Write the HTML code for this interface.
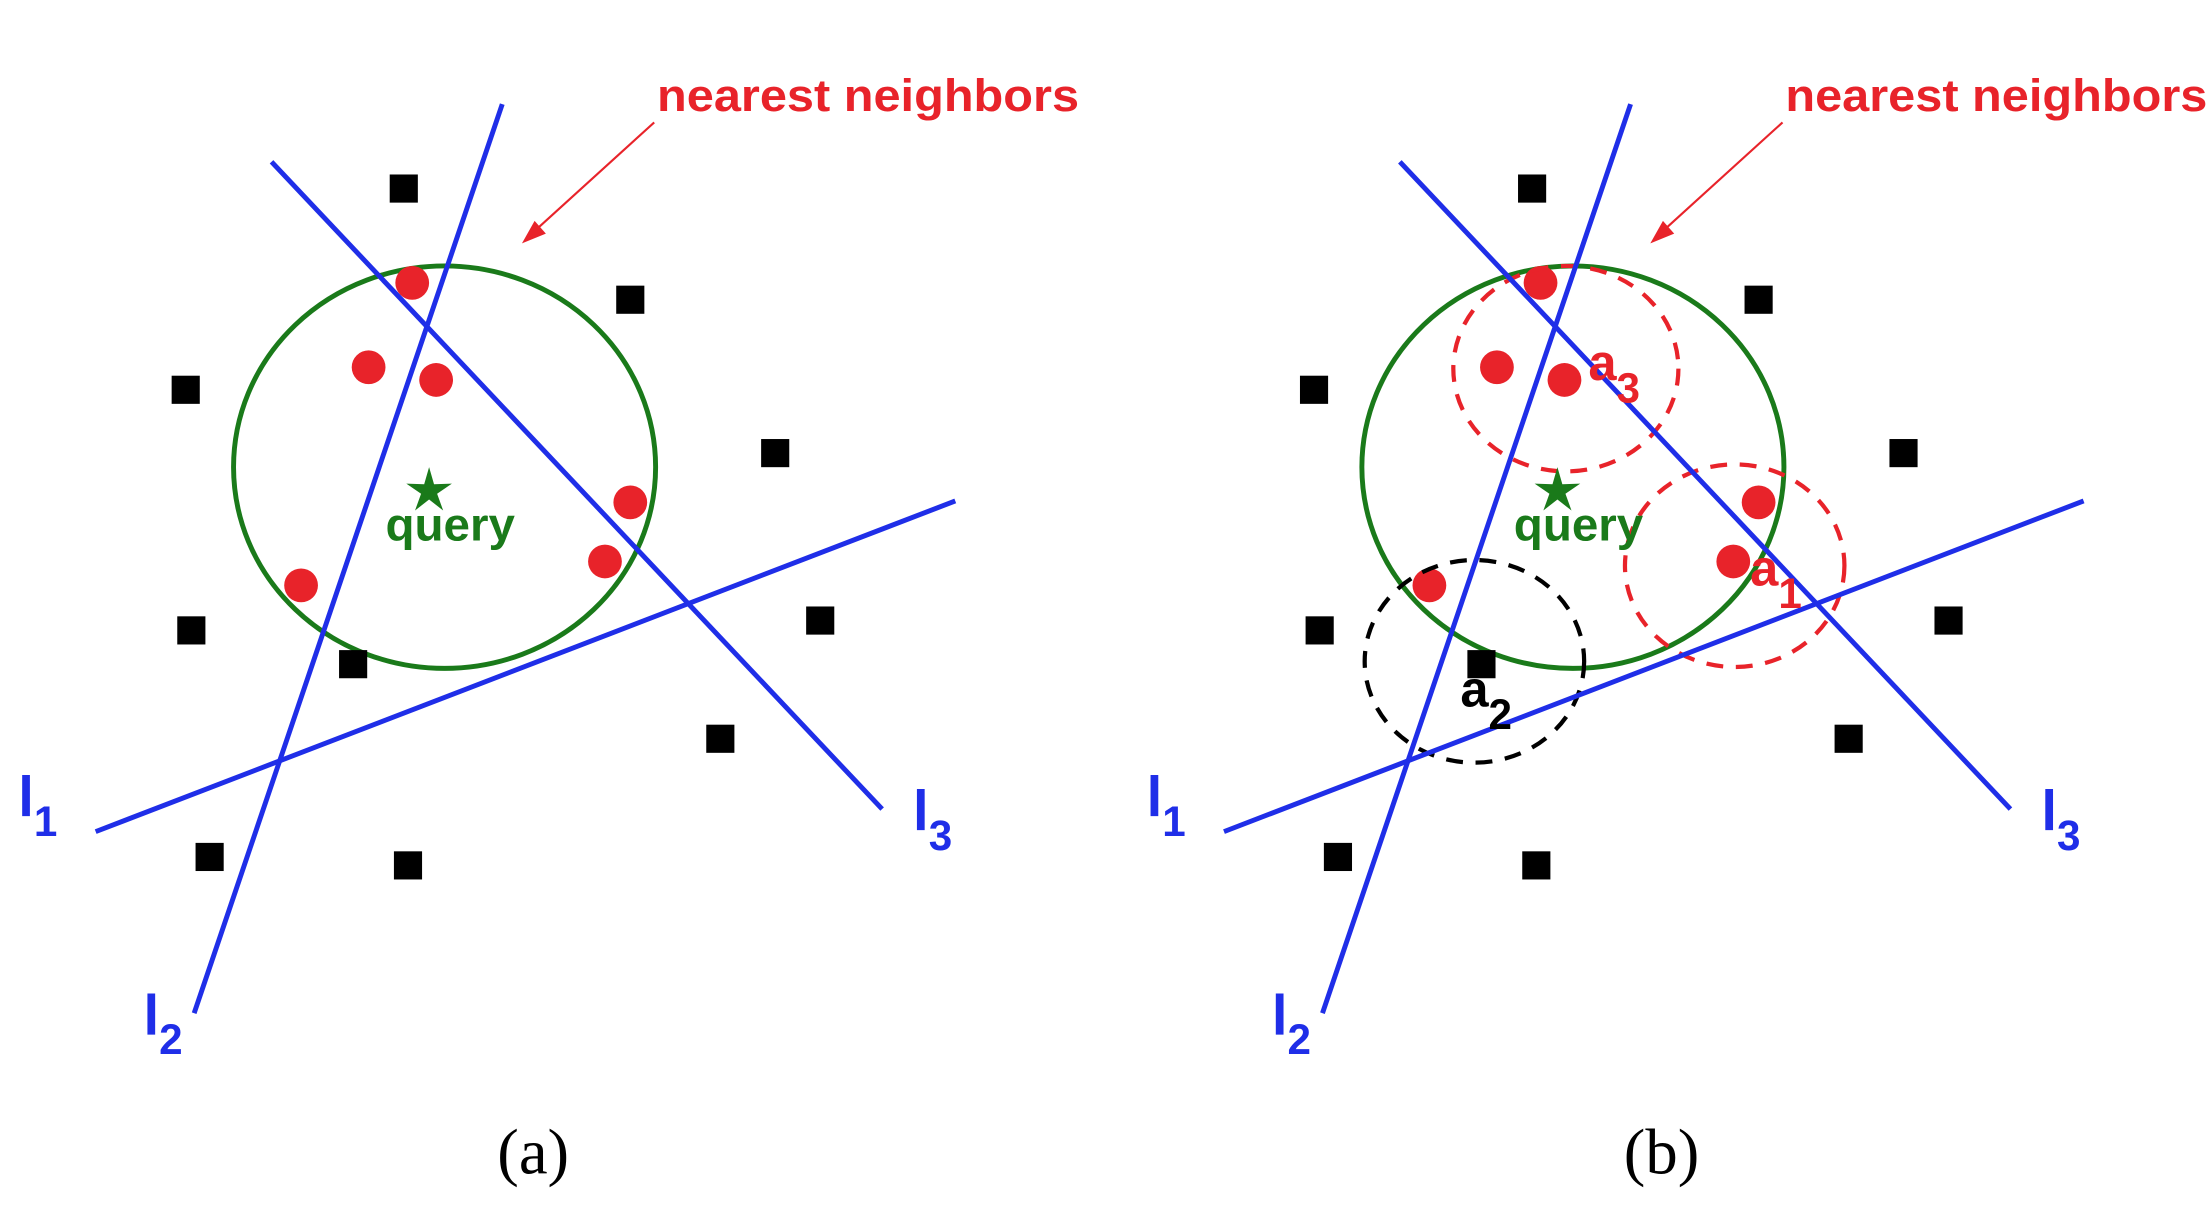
<!DOCTYPE html>
<html><head><meta charset="utf-8"><style>
html,body{margin:0;padding:0;background:#fff;}
svg{display:block;}
.lbl{font-family:"Liberation Sans",sans-serif;font-weight:bold;}
</style></head><body>
<svg id="fig" width="2206" height="1220" viewBox="0 0 1568 867" preserveAspectRatio="none" xmlns="http://www.w3.org/2000/svg"></svg>
<script>
const panelOffsets = [0, 802];
const panelLabels = ["(a)", "(b)"];
const lineStarts = [[68,591],[138,720],[193,115]];
const lineEnds = [[679,356],[357,74],[627,575]];
const lineNames = ["l1","l2","l3"];
const lineLabelPos = [[13,580],[102,735],[649,590]];
const neighborX = [293,262,310,448,430,214];
const neighborY = [201,261,270,357,399,416];
const otherX = [287,448,132,551,136,251,583,512,149,290];
const otherY = [134,213,277,322,448,472,441,525,609,615];
const queryPt = [305,349];
const bucketNames = ["a3","a1","a2"];
const bucketCenters = [[311,262],[431,402],[246,470]];
const bucketRadii = [[80,73],[78,72],[78,72]];
const bucketColors = ["#e8232a","#e8232a","#000"];
const bucketLabelPos = [[327,270],[442,416],[236,502]];

const NS="http://www.w3.org/2000/svg";
const svg=document.getElementById('fig');
function mk(tag,attrs,parent){const e=document.createElementNS(NS,tag);for(const k in attrs)e.setAttribute(k,attrs[k]);(parent||svg).appendChild(e);return e;}
function star(cx,cy,ro,ri){let p=[];for(let i=0;i<10;i++){const a=-Math.PI/2+i*Math.PI/5;const r=i%2?ri:ro;p.push((cx+r*Math.cos(a)).toFixed(1)+','+(cy+r*Math.sin(a)).toFixed(1));}return p.join(' ');}

panelOffsets.forEach((ox,pi)=>{
  const g=mk('g',{transform:`translate(${ox},0)`});
  
  
  const c=mk('ellipse',{cx:316,cy:332,rx:150,ry:143,fill:'none',stroke:'#1a7a1a','stroke-width':3.5},g);
  
  
  otherX.forEach((x,i)=>{
    const r=mk('rect',{x:x-10,y:otherY[i]-10,width:20,height:20,fill:'#000'},g);
    
    
  });
  neighborX.forEach((x,i)=>{
    const d=mk('circle',{cx:x,cy:neighborY[i],r:12,fill:'#e8232a'},g);
    
    
  });
  if(pi===1){
    bucketNames.forEach((n,i)=>{
      const e=mk('ellipse',{cx:bucketCenters[i][0],cy:bucketCenters[i][1],rx:bucketRadii[i][0],ry:bucketRadii[i][1],fill:'none',stroke:bucketColors[i],'stroke-width':3,'stroke-dasharray':'12 9'},g);
      
      
    });
  }
  lineStarts.forEach((s,i)=>{
    const l=mk('line',{x1:s[0],y1:s[1],x2:lineEnds[i][0],y2:lineEnds[i][1],stroke:'#1f2ee8','stroke-width':3.5},g);
    
    
    const t=mk('text',{x:lineLabelPos[i][0],y:lineLabelPos[i][1],fill:'#1f2ee8','font-size':40,class:'lbl'},g);
    t.innerHTML='l<tspan font-size="30" dy="14">'+(i+1)+'</tspan>';
    
    
  });
  if(pi===1){
    bucketNames.forEach((n,i)=>{
      const t=mk('text',{x:bucketLabelPos[i][0],y:bucketLabelPos[i][1],fill:bucketColors[i],'font-size':36,class:'lbl'},g);
      t.innerHTML='a<tspan font-size="30" dy="16">'+n[1]+'</tspan>';
      
      
    });
  }
  const s=mk('polygon',{points:star(queryPt[0],queryPt[1],17,6),fill:'#1a7a1a'},g);
  
  
  const q=mk('text',{x:274,y:384,fill:'#1a7a1a','font-size':33,textLength:92,lengthAdjust:'spacingAndGlyphs',class:'lbl'},g);
  q.textContent='query';
  
  
  const nn=mk('text',{x:467,y:79,fill:'#e8232a','font-size':32,textLength:300,lengthAdjust:'spacingAndGlyphs',class:'lbl'},g);
  nn.textContent='nearest neighbors';
  
  
  const ar=mk('line',{x1:465,y1:87,x2:378,y2:166,stroke:'#e8232a','stroke-width':1.5},g);
  
  
  const ah=mk('polygon',{points:'371,173 380,157 388,166',fill:'#e8232a'},g);
  
  
  const pl=mk('text',{x:379,y:834,fill:'#000','font-size':46,'text-anchor':'middle','font-family':'Liberation Serif, serif'},g);
  pl.textContent=panelLabels[pi];
  
  
});
</script>
</body></html>
